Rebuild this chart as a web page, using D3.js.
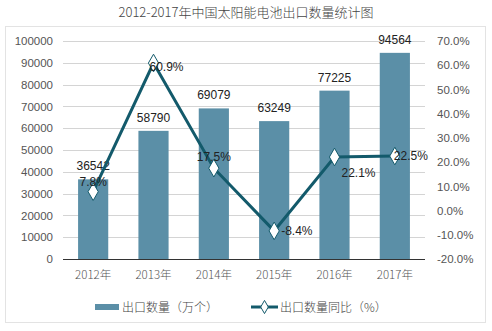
<!DOCTYPE html>
<html><head><meta charset="utf-8">
<script src="https://cdn.jsdelivr.net/npm/d3@7"></script>
<style>body{margin:0;background:#fff}svg{display:block}</style>
</head><body><svg id="c" width="492" height="331"></svg>
<script>
const categories = ["2012年","2013年","2014年","2015年","2016年","2017年"];
const exportQty = [36542, 58790, 69079, 63249, 77225, 94564];
const yoyPct = [7.8, 60.9, 17.5, -8.4, 22.1, 22.5];
const leftTicks = [0,10000,20000,30000,40000,50000,60000,70000,80000,90000,100000];
const rightTicks = [-20,-10,0,10,20,30,40,50,60,70];
const title = "2012-2017年中国太阳能电池出口数量统计图";
const legendLabels = ["出口数量（万个）","出口数量同比（%）"];

const svg = d3.select("#c");
const font = "'Liberation Sans', Arial, 'Noto Sans CJK SC', sans-serif";
const cjk = "'Noto Sans CJK SC', sans-serif";
const L = 63, R = 425, T = 41, B = 259;
const barColor = "#5b8fa7", lineColor = "#135a6b";

svg.append("rect").attr("x",5.5).attr("y",26.5).attr("width",480).attr("height",296)
  .attr("fill","none").attr("stroke","#e3e3e3");

svg.append("text").attr("x",246).attr("y",17).attr("text-anchor","middle")
  .attr("font-family",cjk).attr("font-weight",300).attr("font-size",13).attr("fill","#444").text(title);

const x = d3.scaleBand().domain(categories).range([L,R]).paddingInner(0.5).paddingOuter(0.25);
const yL = d3.scaleLinear().domain([0,100000]).range([B,T]);
const yR = d3.scaleLinear().domain([-20,70]).range([B,T]);

// grid
svg.append("g").selectAll("line").data(leftTicks.slice(1)).join("line")
  .attr("x1",L).attr("x2",R).attr("y1",d=>Math.round(yL(d))+0.5).attr("y2",d=>Math.round(yL(d))+0.5)
  .attr("stroke","#d4d4d4");

// left axis
const gL = svg.append("g").attr("transform",`translate(${L},0)`)
  .call(d3.axisLeft(yL).tickValues(leftTicks).tickFormat(d3.format("d")).tickSize(0).tickPadding(10));
gL.select(".domain").remove();
gL.selectAll("text").attr("font-family",font).attr("font-size",11.5).attr("fill","#555");

// right axis
const gR = svg.append("g").attr("transform",`translate(${R},0)`)
  .call(d3.axisRight(yR).tickValues(rightTicks).tickFormat(d=>d.toFixed(1)+"%").tickSize(0).tickPadding(12));
gR.select(".domain").remove();
gR.selectAll("text").attr("font-family",font).attr("font-size",11.5).attr("fill","#555");

// bars
svg.append("g").selectAll("rect").data(exportQty).join("rect")
  .attr("x",(d,i)=>x(categories[i])).attr("width",x.bandwidth())
  .attr("y",d=>yL(d)).attr("height",d=>B-yL(d)).attr("fill",barColor);

// baseline
svg.append("line").attr("x1",L).attr("x2",R).attr("y1",B+0.5).attr("y2",B+0.5).attr("stroke","#333");

// x axis labels
const gX = svg.append("g").attr("transform",`translate(0,${B})`)
  .call(d3.axisBottom(x).tickSize(0).tickPadding(12));
gX.select(".domain").remove();
gX.selectAll("text").attr("font-family",cjk).attr("font-weight",300).attr("font-size",11.5).attr("fill","#555");

// bar labels
svg.append("g").selectAll("text").data(exportQty).join("text")
  .attr("x",(d,i)=>x(categories[i])+x.bandwidth()/2).attr("y",d=>yL(d)-9)
  .attr("text-anchor","middle").attr("font-family",font).attr("font-size",12).attr("fill","#222")
  .text(d=>d);

// line
const cx = i => x(categories[i])+x.bandwidth()/2;
svg.append("path").datum(yoyPct)
  .attr("d",d3.line().x((d,i)=>cx(i)).y(d=>yR(d)))
  .attr("fill","none").attr("stroke",lineColor).attr("stroke-width",3);

const diamond = d3.symbol().type(d3.symbolDiamond).size(90);
svg.append("g").selectAll("path").data(yoyPct).join("path")
  .attr("transform",(d,i)=>`translate(${cx(i)},${yR(d)})`).attr("d",diamond)
  .attr("fill","#fff").attr("stroke",lineColor).attr("stroke-width",1);

// percent labels: offsets per point
const pctOff = [[0,-6,"middle"],[-4,8,"start"],[0,-7,"middle"],[7,4,"start"],[7,20,"start"],[-1,4,"start"]];
svg.append("g").selectAll("text").data(yoyPct).join("text")
  .attr("x",(d,i)=>cx(i)+pctOff[i][0]).attr("y",(d,i)=>yR(d)+pctOff[i][1])
  .attr("text-anchor",(d,i)=>pctOff[i][2]).attr("font-family",font).attr("font-size",12).attr("fill","#222")
  .text(d=>d.toFixed(1)+"%");

// legend
const lg = svg.append("g");
lg.append("rect").attr("x",95).attr("y",304).attr("width",24).attr("height",6).attr("fill",barColor);
lg.append("text").attr("x",122).attr("y",312).attr("font-family",cjk).attr("font-weight",300).attr("font-size",12).attr("fill","#444").text(legendLabels[0]);
lg.append("line").attr("x1",251).attr("x2",278).attr("y1",307).attr("y2",307).attr("stroke",lineColor).attr("stroke-width",3);
lg.append("path").attr("transform","translate(264.5,307)").attr("d",d3.symbol().type(d3.symbolDiamond).size(50))
  .attr("fill","#fff").attr("stroke",lineColor);
lg.append("text").attr("x",280).attr("y",312).attr("font-family",cjk).attr("font-weight",300).attr("font-size",12).attr("fill","#444").text(legendLabels[1]);
</script></body></html>
